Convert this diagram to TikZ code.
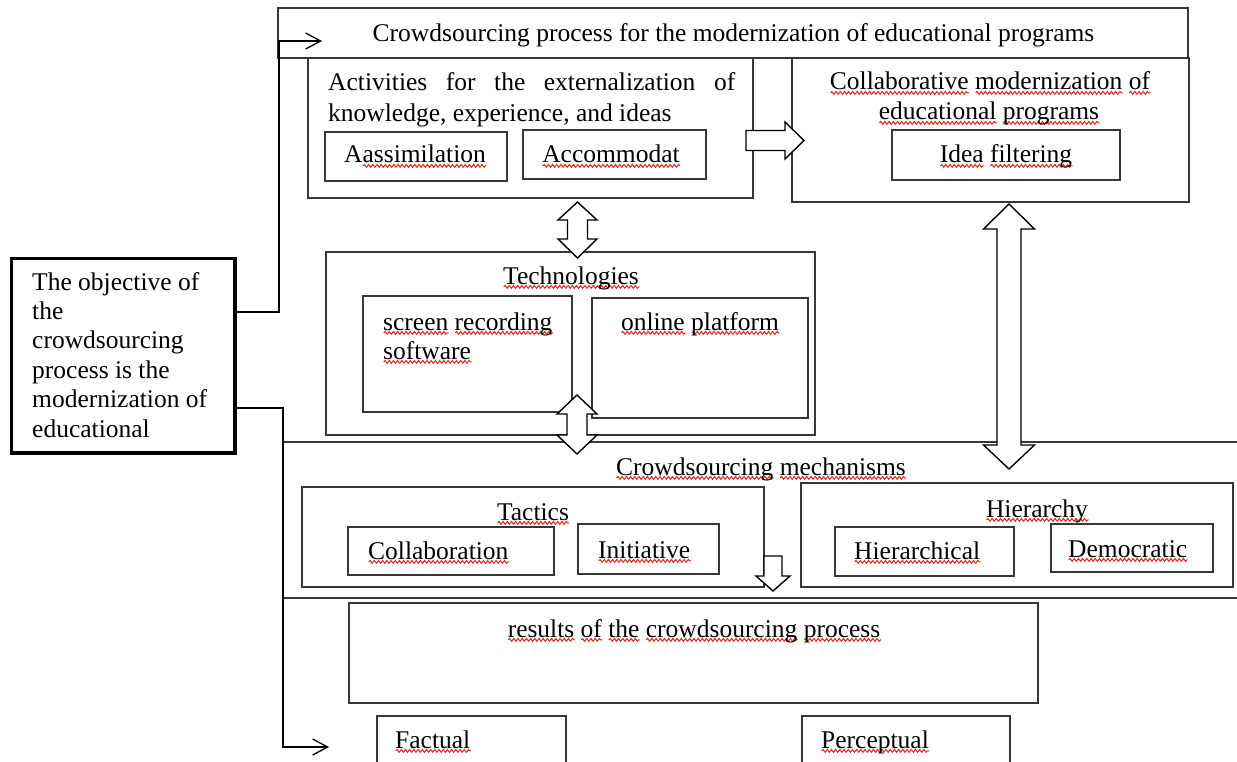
\documentclass[tikz,border=0pt]{standalone}
\usepackage{fontspec}
\setmainfont{Liberation Serif}
\usetikzlibrary{arrows.meta,fit,decorations.pathmorphing}
\definecolor{spell}{RGB}{222,45,38}
\definecolor{edge}{RGB}{55,55,55}
% red wavy underline under a word
\newsavebox\sqbox
\newcommand\sqw[1]{\sbox\sqbox{#1}\rlap{\raisebox{-4.8pt}{\tikz\draw[spell, line width=1.05pt, decorate, decoration={snake, amplitude=1.4pt, segment length=4.2pt}] (0pt,0pt) -- (\wd\sqbox,0pt);}}\usebox\sqbox}
% vertical double block arrow: cx, top tip, head base 1, head base 2, bottom tip, head half width, shaft half width
\newcommand\vdarrow[7]{\draw[blockarrow] (#1,#2) -- (#1+#6,#3) -- (#1+#7,#3) -- (#1+#7,#4) -- (#1+#6,#4) -- (#1,#5) -- (#1-#6,#4) -- (#1-#7,#4) -- (#1-#7,#3) -- (#1-#6,#3) -- cycle;}
\begin{document}
\begin{tikzpicture}[x=1pt,y=-1pt,
  box/.style={draw=edge, line width=1.1pt, inner sep=0pt},
  objbox/.style={draw=black, line width=3.4pt, inner sep=0pt},
  txt/.style={inner sep=0pt, font=\fontsize{25.5}{29.4}\selectfont},
  blockarrow/.style={draw=black, fill=white, line width=1.4pt, line join=miter},
  link/.style={draw=black, line width=1.3pt, -{Straight Barb[length=15pt,width=16pt,line width=1.3pt]}}]
\useasboundingbox[fill=white] (0,0) rectangle (1237,762);

% frames
\node[box, fit={(278,8)(1188,58)}] (title) {};
\node[box, fit={(308,58)(753,198)}] (activ) {};
\node[box, fit={(325,132)(507,181)}] (assim) {};
\node[box, fit={(523,130)(706,179)}] (accom) {};
\node[box, fit={(792,58)(1189,202)}] (collab) {};
\node[box, fit={(892,130)(1120,180)}] (idea) {};
\node[box, fit={(326,252)(815,435)}] (tech) {};
\node[box, fit={(363,296)(572,412)}] (screen) {};
\node[box, fit={(592,298)(808,418)}] (online) {};
\coordinate (mechTL) at (283,442);
\coordinate (mechBL) at (283,598);
\draw[box] (1237,442) -- (mechTL) -- (mechBL) -- (1237,598);
\node[box, fit={(302,487)(764,587)}] (tactics) {};
\node[box, fit={(348,527)(554,575)}] (collabo) {};
\node[box, fit={(578,524)(719,574)}] (initi) {};
\node[box, fit={(801,483)(1233,587)}] (hier) {};
\node[box, fit={(835,527)(1014,576)}] (hierl) {};
\node[box, fit={(1051,524)(1213,572)}] (demo) {};
\node[box, fit={(349,603)(1038,703)}] (results) {};
\node[box, fit={(377,716)(566,775)}] (factual) {};
\node[box, fit={(802,716)(1010,775)}] (percep) {};
\node[objbox, fit={(11.5,258.5)(235,453)}] (obj) {};

% texts
\node[txt, anchor=base] at (733.5,42) {Crowdsourcing process for the modernization of educational programs};
\node[txt, anchor=base west] at (328,91) {\makebox[407pt][s]{Activities for the externalization of}};
\node[txt, anchor=base west] at (328,122) {knowledge, experience, and ideas};
\node[txt, anchor=base] at (415,163) {A\sqw{assimilation}};
\node[txt, anchor=base] at (611,163) {\sqw{Accommodat}};
\node[txt, anchor=base] at (990,90) {\sqw{Collaborative} \sqw{modernization} \sqw{of}};
\node[txt, anchor=base] at (989,120) {\sqw{educational} \sqw{programs}};
\node[txt, anchor=base] at (1006,163) {\sqw{Idea} \sqw{filtering}};
\node[txt, anchor=base] at (571,284) {\sqw{Technologies}};
\node[txt, anchor=base west] at (383,330) {\sqw{screen} \sqw{recording}};
\node[txt, anchor=base west] at (383,359) {\sqw{software}};
\node[txt, anchor=base] at (700,330) {\sqw{online} \sqw{platform}};
\node[txt, anchor=base] at (761,475) {\sqw{Crowdsourcing} \sqw{mechanisms}};
\node[txt, anchor=base] at (533,520) {\sqw{Tactics}};
\node[txt, anchor=base west] at (368,559) {\sqw{Collaboration}};
\node[txt, anchor=base west] at (598,558) {\sqw{Initiative}};
\node[txt, anchor=base] at (1037,517) {\sqw{Hierarchy}};
\node[txt, anchor=base west] at (854,559) {\sqw{Hierarchical}};
\node[txt, anchor=base west] at (1068,557) {\sqw{Democratic}};
\node[txt, anchor=base] at (694,637) {\sqw{results} \sqw{of} \sqw{the} \sqw{crowdsourcing} \sqw{process}};
\node[txt, anchor=base west] at (395,748) {\sqw{Factual}};
\node[txt, anchor=base west] at (821,748) {\sqw{Perceptual}};
% the base anchor of this multi-line node sits on its last line
\node[txt, anchor=base west, align=left] at (32,437) {The objective of\\the\\crowdsourcing\\process is the\\modernization of\\educational};

% block arrows
\draw[blockarrow] (746,130.5) -- (785,130.5) -- (785,122) -- (804,140.5) -- (785,159) -- (785,150.5) -- (746,150.5) -- cycle;
\vdarrow{577.5}{202}{220}{239}{258}{19.5}{10}
\vdarrow{577}{395}{414}{435}{454}{20}{10}
\vdarrow{1009}{204}{229}{445}{469}{25.5}{12}
\draw[blockarrow] (764,556) -- (782,556) -- (782,576) -- (790,576) -- (773,591) -- (756,576) -- (764,576) -- cycle;

% connectors from the objective box
\coordinate (toptip) at (322,41);
\coordinate (bottip) at (329,747);
\draw[link] (obj.east |- 0,312) -| (279,41) -- (toptip);
\draw[link] (obj.east |- 0,408) -| (283,747) -- (bottip);
\end{tikzpicture}
\end{document}
